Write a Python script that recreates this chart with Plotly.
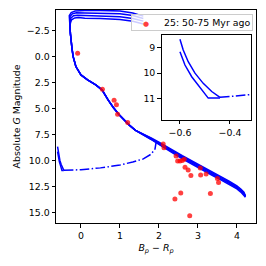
import plotly.graph_objects as go

# ---- data ----
# common upper main sequence (bottom -> top)
ms_x = [1.58, 1.40, 1.24, 0.98, 0.83, 0.70, 0.54, 0.38, 0.17, 0.00, -0.13, -0.20, -0.23, -0.26, -0.27, -0.28]
ms_y = [7.45, 7.10, 6.60, 5.60, 4.90, 4.20, 3.20, 2.73, 2.24, 1.76, 0.96, 0.00, -0.80, -1.60, -2.20, -2.80]

# lower main sequence for four isochrones
low_x = [4.22, 4.18, 4.10, 4.00, 3.80, 3.60, 3.40, 3.20, 3.00, 2.80, 2.60, 2.40, 2.20, 2.00, 1.80, 1.58]
low_y_a = [13.40, 13.05, 12.75, 12.45, 12.00, 11.60, 11.20, 10.80, 10.40, 9.95, 9.55, 9.10, 8.65, 8.25, 7.84, 7.45]
low_y_b = [13.45, 13.15, 12.85, 12.55, 12.10, 11.70, 11.30, 10.90, 10.50, 10.05, 9.65, 9.20, 8.75, 8.32, 7.88, 7.45]
low_y_c = [13.50, 13.25, 12.95, 12.65, 12.20, 11.80, 11.40, 11.00, 10.60, 10.15, 9.75, 9.30, 8.85, 8.38, 7.92, 7.45]
low_y_d = [13.55, 13.35, 13.05, 12.75, 12.30, 11.90, 11.50, 11.10, 10.70, 10.25, 9.85, 9.40, 8.95, 8.45, 7.96, 7.45]

# turn-off / giant branch for four isochrones
top_x_a = [-0.30, -0.30, -0.25, -0.15, 0.10, 0.50, 1.00, 1.33, 1.60]
top_y_a = [-3.40, -3.95, -4.25, -4.40, -4.43, -4.45, -4.40, -4.20, -3.90]
top_x_b = [-0.29, -0.28, -0.22, -0.12, 0.10, 0.50, 1.00, 1.33, 1.60]
top_y_b = [-3.35, -3.85, -4.12, -4.22, -4.20, -4.20, -4.13, -3.95, -3.68]
top_x_c = [-0.28, -0.26, -0.19, -0.09, 0.10, 0.50, 1.00, 1.33, 1.60]
top_y_c = [-3.30, -3.70, -3.93, -3.98, -3.95, -3.95, -3.85, -3.68, -3.42]
top_x_d = [-0.27, -0.24, -0.16, -0.06, 0.10, 0.50, 1.00, 1.33, 1.60]
top_y_d = [-3.25, -3.55, -3.73, -3.76, -3.70, -3.68, -3.58, -3.40, -3.15]

# white dwarf cooling tracks
wd1_x = [-0.600, -0.587, -0.567, -0.540, -0.507, -0.473, -0.440]
wd1_y = [8.67, 9.09, 9.55, 10.00, 10.40, 10.72, 10.95]
wd2_x = [-0.600, -0.580, -0.553, -0.520, -0.487, -0.440]
wd2_y = [9.16, 9.68, 10.14, 10.55, 10.98, 10.98]
# dash-dot bridge
dd_x = [-0.44, 0.00, 0.50, 1.00, 1.33, 1.60, 1.80, 1.90, 1.93]
dd_y = [10.95, 10.90, 10.72, 10.45, 10.15, 9.85, 9.40, 8.90, 8.20]

# observed stars
star_x = [-0.085, 0.55, 0.85, 0.91, 0.94, 1.20, 2.11, 2.13, 2.44, 2.48, 2.54, 2.60, 2.65,
          2.67, 2.75, 2.82, 3.06, 3.07, 3.21, 3.50, 3.53, 2.56, 2.41, 3.32, 2.79]
star_y = [-0.33, 3.14, 4.20, 4.65, 5.55, 6.36, 8.41, 8.77, 9.57, 10.05, 10.05, 10.02, 9.89,
          10.66, 10.92, 11.46, 10.73, 11.40, 11.30, 11.75, 12.14, 13.13, 13.71, 13.20, 15.32]
legend_label = "25: 50-75 Myr ago"

x_ticks = [0, 1, 2, 3, 4]
y_ticks = [-2.5, 0.0, 2.5, 5.0, 7.5, 10.0, 12.5, 15.0]
inset_x_ticks = [-0.6, -0.4]
inset_y_ticks = [9, 10, 11]

BLUE = "#0000ff"
STAR = "rgba(255,0,0,0.75)"
LW = 1.5
DD = "9.6px,2.4px,1.5px,2.4px"

fig = go.Figure()

def line(x, y, xa="x", ya="y", dash="solid"):
    fig.add_trace(go.Scatter(x=x, y=y, mode="lines", xaxis=xa, yaxis=ya,
                             line=dict(color=BLUE, width=LW, dash=dash),
                             showlegend=False, hoverinfo="skip"))

for ly, tx, ty in [(low_y_a, top_x_a, top_y_a), (low_y_b, top_x_b, top_y_b),
                   (low_y_c, top_x_c, top_y_c), (low_y_d, top_x_d, top_y_d)]:
    line(low_x + ms_x[1:] + tx, ly + ms_y[1:] + ty)

for xa, ya in [("x", "y"), ("x2", "y2")]:
    line(wd1_x, wd1_y, xa, ya)
    line(wd2_x, wd2_y, xa, ya)
    line(dd_x, dd_y, xa, ya, dash=DD)

fig.add_trace(go.Scatter(x=star_x, y=star_y, mode="markers", name=legend_label,
                         marker=dict(color=STAR, size=5, line=dict(width=0)),
                         xaxis="x", yaxis="y", showlegend=False))

FONT = dict(family="DejaVu Sans", size=9.4, color="black")
axcommon = dict(showline=True, mirror=True, linecolor="black", linewidth=1,
                ticks="outside", ticklen=3.5, tickwidth=0.8, tickcolor="black",
                showgrid=False, zeroline=False, tickfont=FONT)

# legend box drawn as a boxed annotation (compact, matplotlib-like)
fig.add_annotation(
    xref="paper", yref="paper", x=0.9835, y=0.981, xanchor="right", yanchor="top",
    text=f"&nbsp;&nbsp;&nbsp;<span style='color:{STAR};font-size:7px'>●</span>"
         f"&nbsp;&nbsp;&nbsp;&nbsp;&nbsp;{legend_label}",
    showarrow=False, align="left", font=FONT,
    bgcolor="rgba(255,255,255,0.8)", bordercolor="#cccccc", borderwidth=1, borderpad=2,
)

fig.update_layout(
    width=266, height=266,
    margin=dict(l=56, r=10, t=10, b=43),
    paper_bgcolor="white", plot_bgcolor="white",
    font=FONT,
    xaxis=dict(range=[-0.64, 4.49], tickvals=x_ticks, domain=[0, 1],
               title=dict(text="<i>B</i><sub><i>p</i></sub> − <i>R</i><sub><i>p</i></sub>",
                          font=FONT, standoff=4), **axcommon),
    yaxis=dict(range=[16.03, -4.49], tickvals=y_ticks, tickformat=".1f", domain=[0, 1],
               title=dict(text="Absolute <i>G</i> Magnitude", font=FONT, standoff=4), **axcommon),
    xaxis2=dict(range=[-0.673, -0.316], tickvals=inset_x_ticks, tickformat=".1f",
                domain=[0.5285, 0.975], anchor="y2", **axcommon),
    yaxis2=dict(range=[11.84, 8.5], tickvals=inset_y_ticks, domain=[0.4836, 0.8826],
                anchor="x2", **axcommon),
    showlegend=False,
)

fig.write_html("out.html", config={"displayModeBar": False},
               post_script="document.body.style.margin='0';")
